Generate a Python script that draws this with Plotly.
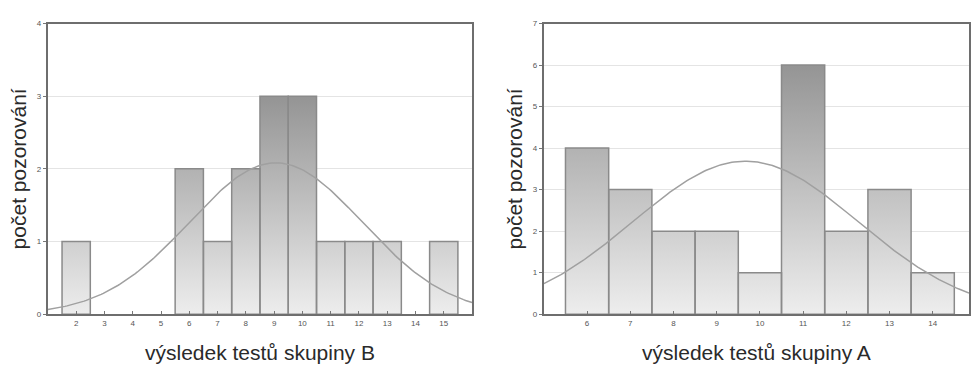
import numpy as np
import plotly.graph_objects as go
from plotly.subplots import make_subplots

# ---- data ----
b_scores = [2, 6, 7, 8, 9, 10, 11, 12, 13, 15]
b_counts = [1, 2, 1, 2, 3, 3, 1, 1, 1, 1]
a_scores = [6, 7, 8, 9, 10, 11, 12, 13, 14]
a_counts = [4, 3, 2, 2, 1, 6, 2, 3, 1]
b_ticks = list(range(2, 16))
a_ticks = list(range(6, 15))
b_yticks = [0, 1, 2, 3, 4]
a_yticks = [0, 1, 2, 3, 4, 5, 6, 7]
x_title_b = "výsledek testů skupiny B"
x_title_a = "výsledek testů skupiny A"
y_title = "počet pozorování"

FONT = "Liberation Sans, Arial, sans-serif"
W, H = 971, 367

fig = make_subplots(rows=1, cols=2)


def add_panel(scores, counts, col, x_range):
    scores = np.array(scores, float)
    counts = np.array(counts, float)
    # bar bodies with vertical gradient + outlines (polygons built from the bin data)
    px, py = [], []
    for s, c in zip(scores, counts):
        px += [s - 0.5, s - 0.5, s + 0.5, s + 0.5, s - 0.5, None]
        py += [0, c, c, 0, 0, None]
    fig.add_trace(go.Scatter(
        x=px, y=py, mode="lines", fill="toself",
        line=dict(color="#8a8a8a", width=1.5),
        fillgradient=dict(type="vertical",
                          colorscale=[[0, "#f0f0f0"], [1, "#959595"]],
                          start=0, stop=counts.max()),
        hoverinfo="skip", showlegend=False), row=1, col=col)
    # fitted normal curve from the histogram data
    n = counts.sum()
    mean = (scores * counts).sum() / n
    sd = np.sqrt(((scores - mean) ** 2 * counts).sum() / (n - 1))
    xs = np.linspace(x_range[0], x_range[1], 200)
    ys = n * 1.0 / (sd * np.sqrt(2 * np.pi)) * np.exp(-0.5 * ((xs - mean) / sd) ** 2)
    fig.add_trace(go.Scatter(x=xs, y=ys, mode="lines",
                             line=dict(color="#a0a0a0", width=1.5),
                             hoverinfo="skip", showlegend=False), row=1, col=col)


add_panel(b_scores, b_counts, 1, [1, 16])
add_panel(a_scores, a_counts, 2, [5, 14.84])

ydom = [(H - 318) / H, (H - 20) / H]
axis_common = dict(showline=True, linecolor="#6e6e6e", linewidth=2, mirror=True,
                   ticks="inside", ticklen=3, tickcolor="#777",
                   tickfont=dict(family=FONT, size=8, color="#555"),
                   zeroline=False)
title_font = dict(family=FONT, size=21, color="#2a2a2a")

fig.update_layout(
    width=W, height=H,
    margin=dict(l=0, r=0, t=0, b=0),
    paper_bgcolor="white", plot_bgcolor="white",
    showlegend=False,
    xaxis=dict(domain=[48 / W, 473 / W], range=[1, 16], tickvals=b_ticks,
               showgrid=False, **axis_common,
               title=dict(text=x_title_b, font=title_font, standoff=18)),
    xaxis2=dict(domain=[545 / W, 1.0], range=[5, 14.84], tickvals=a_ticks,
                showgrid=False, **axis_common,
                title=dict(text=x_title_a, font=title_font, standoff=18)),
    yaxis=dict(domain=ydom, range=[0, 4], tickvals=b_yticks,
               showgrid=True, gridcolor="#e4e4e4", gridwidth=1, **axis_common,
               title=dict(text=y_title, font=title_font, standoff=4)),
    yaxis2=dict(domain=ydom, range=[0, 7], tickvals=a_yticks,
                showgrid=True, gridcolor="#e4e4e4", gridwidth=1, **axis_common,
                title=dict(text=y_title, font=title_font, standoff=4)),
)
fig.update_yaxes(ticks="outside")

fig.write_html("out.html")
